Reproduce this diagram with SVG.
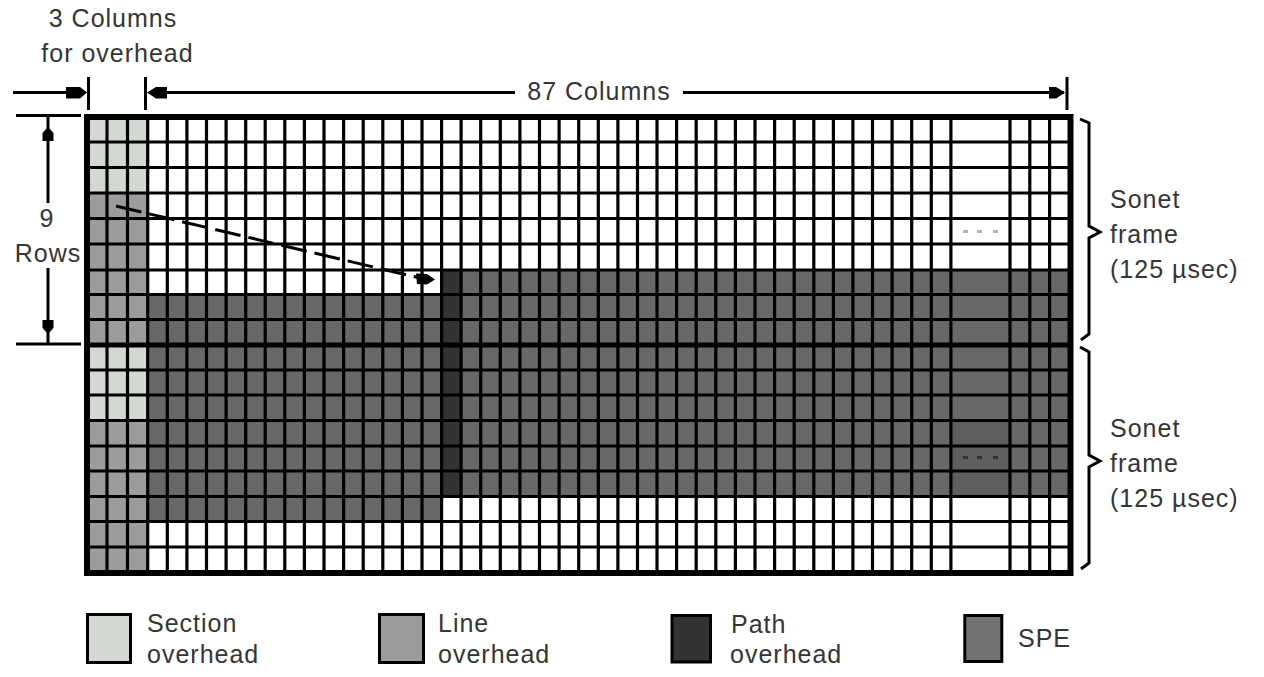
<svg xmlns="http://www.w3.org/2000/svg" width="1264" height="677" viewBox="0 0 1264 677">
<style>
.t{font-family:"Liberation Sans",Arial,sans-serif;font-size:25px;letter-spacing:1px;fill:#353535}
.sec{fill:#d3d8d3}
.lin{fill:#9a9d9a}
.pth{fill:#333333}
.spe{fill:#666966}
.ln{stroke:#000;stroke-width:3;fill:none}
.gl{stroke:#000;stroke-width:3.2;fill:none}
.ah{fill:#000}
.lb{stroke:#000;stroke-width:3}
</style>
<rect width="1264" height="677" fill="#fff"/>
<g id="frame-grid">
  <!-- fills -->
  <rect class="sec" x="87" y="117" width="61" height="76"/>
  <rect class="lin" x="87" y="193" width="61" height="152"/>
  <rect class="sec" x="87" y="345" width="61" height="75.5"/>
  <rect class="lin" x="87" y="420.5" width="61" height="152.5"/>
  <rect class="spe" x="147.7" y="294.5" width="293.9" height="227"/>
  <rect class="pth" x="441.6" y="270" width="19.5" height="226.5"/>
  <rect class="spe" x="461.1" y="270" width="609.4" height="226.5"/>
  <rect fill="#5d5f5d" x="950.9" y="420.5" width="59.1" height="76"/>
  <!-- grid lines -->
  <path class="gl" d="M107 117V573M127.5 117V573M147.7 117V573M167.3 117V573M186.9 117V573M206.5 117V573M226.1 117V573M245.7 117V573M265.2 117V573M284.8 117V573M304.4 117V573M324 117V573M343.6 117V573M363.2 117V573M382.8 117V573M402.4 117V573M422 117V573M441.6 117V573M461.1 117V573M480.7 117V573M500.3 117V573M519.9 117V573M539.5 117V573M559.1 117V573M578.7 117V573M598.3 117V573M617.9 117V573M637.5 117V573M657 117V573M676.6 117V573M696.2 117V573M715.8 117V573M735.4 117V573M755 117V573M774.6 117V573M794.2 117V573M813.8 117V573M833.4 117V573M852.9 117V573M872.5 117V573M892.1 117V573M911.7 117V573M931.3 117V573M950.9 117V573M1010 117V573M1029.8 117V573M1049.6 117V573"/>
  <path class="gl" d="M87 142H1070.5M87 167.5H1070.5M87 193H1070.5M87 218.5H1070.5M87 244H1070.5M87 270H1070.5M87 294.5H1070.5M87 319.5H1070.5M87 370H1070.5M87 395H1070.5M87 420.5H1070.5M87 446H1070.5M87 471H1070.5M87 496.5H1070.5M87 521.5H1070.5M87 547H1070.5"/>
  <path d="M87 345H1070.5" stroke="#000" stroke-width="5"/>
  <rect x="87" y="117" width="983.5" height="456" fill="none" stroke="#000" stroke-width="6"/>
  <!-- ellipsis marks -->
  <g fill="#b3b5ad">
    <rect x="963" y="230" width="5" height="3"/>
    <rect x="977" y="230" width="5" height="3"/>
    <rect x="993" y="230" width="5" height="3"/>
  </g>
  <g fill="#333">
    <rect x="963" y="456" width="5" height="3"/>
    <rect x="977" y="456" width="5" height="3"/>
    <rect x="993" y="456" width="5" height="3"/>
  </g>
</g>
<g id="connectors">
  <!-- 3 columns for overhead -->
  <path class="ln" d="M13 92.5H80"/>
  <polygon class="ah" points="66,87 80,87 87,92.5 80,98.5 66,98.5"/>
  <path class="ln" d="M88.5 77V110M145.5 77V110M1067 77V110"/>
  <!-- 87 columns -->
  <path class="ln" d="M150 92.5H515M683 92.5H1064"/>
  <polygon class="ah" points="147,92.5 156,87 167,87 167,98.5 156,98.5"/>
  <polygon class="ah" points="1065,92.5 1056,87 1049,87 1049,98.5 1056,98.5"/>
  <!-- 9 rows -->
  <path class="ln" d="M16 115.5H81M16 344H81"/>
  <path class="ln" d="M48 117V203M48 268V344"/>
  <polygon class="ah" points="48,127 53.5,133 53.5,141 42.5,141 42.5,133"/>
  <polygon class="ah" points="48,334 53.5,328 53.5,320 42.5,320 42.5,328"/>
  <!-- pointer -->
  <path d="M116 206L420 278" stroke="#000" stroke-width="3" stroke-dasharray="26 8" fill="none"/>
  <polygon class="ah" points="416,273.5 427,274 435,279.5 427,284.5 417,284"/>
  <!-- braces -->
  <path class="ln" d="M1080 119L1089 123V226L1100 232L1089 238V334L1081 340"/>
  <path class="ln" d="M1080 347L1089 352V455L1100 461L1089 467V563L1081 569"/>
</g>
<g id="labels">
  <text class="t" x="113" y="27" text-anchor="middle">3 Columns</text>
  <text class="t" x="117.5" y="62" text-anchor="middle">for overhead</text>
  <text class="t" x="599" y="100" text-anchor="middle">87 Columns</text>
  <text class="t" x="47" y="227" text-anchor="middle">9</text>
  <text class="t" x="48" y="262" text-anchor="middle">Rows</text>
  <text class="t" x="1110" y="208">Sonet</text>
  <text class="t" x="1110" y="243">frame</text>
  <text class="t" x="1110" y="278">(125 µsec)</text>
  <text class="t" x="1110" y="437">Sonet</text>
  <text class="t" x="1110" y="472">frame</text>
  <text class="t" x="1110" y="507">(125 µsec)</text>
</g>
<g id="legend-section">
  <rect class="sec lb" x="87.5" y="614.5" width="43" height="48"/>
  <text class="t" x="147" y="632">Section</text>
  <text class="t" x="147" y="663">overhead</text>
</g>
<g id="legend-line">
  <rect class="lin lb" x="379.5" y="614.5" width="44" height="48"/>
  <text class="t" x="438" y="632">Line</text>
  <text class="t" x="438" y="663">overhead</text>
</g>
<g id="legend-path">
  <rect class="pth lb" x="672" y="615.5" width="38.5" height="46.5"/>
  <text class="t" x="731" y="633">Path</text>
  <text class="t" x="730" y="663">overhead</text>
</g>
<g id="legend-spe">
  <rect class="lb" fill="#717471" x="964.8" y="615.5" width="37" height="46"/>
  <text class="t" x="1018" y="647">SPE</text>
</g>
</svg>
